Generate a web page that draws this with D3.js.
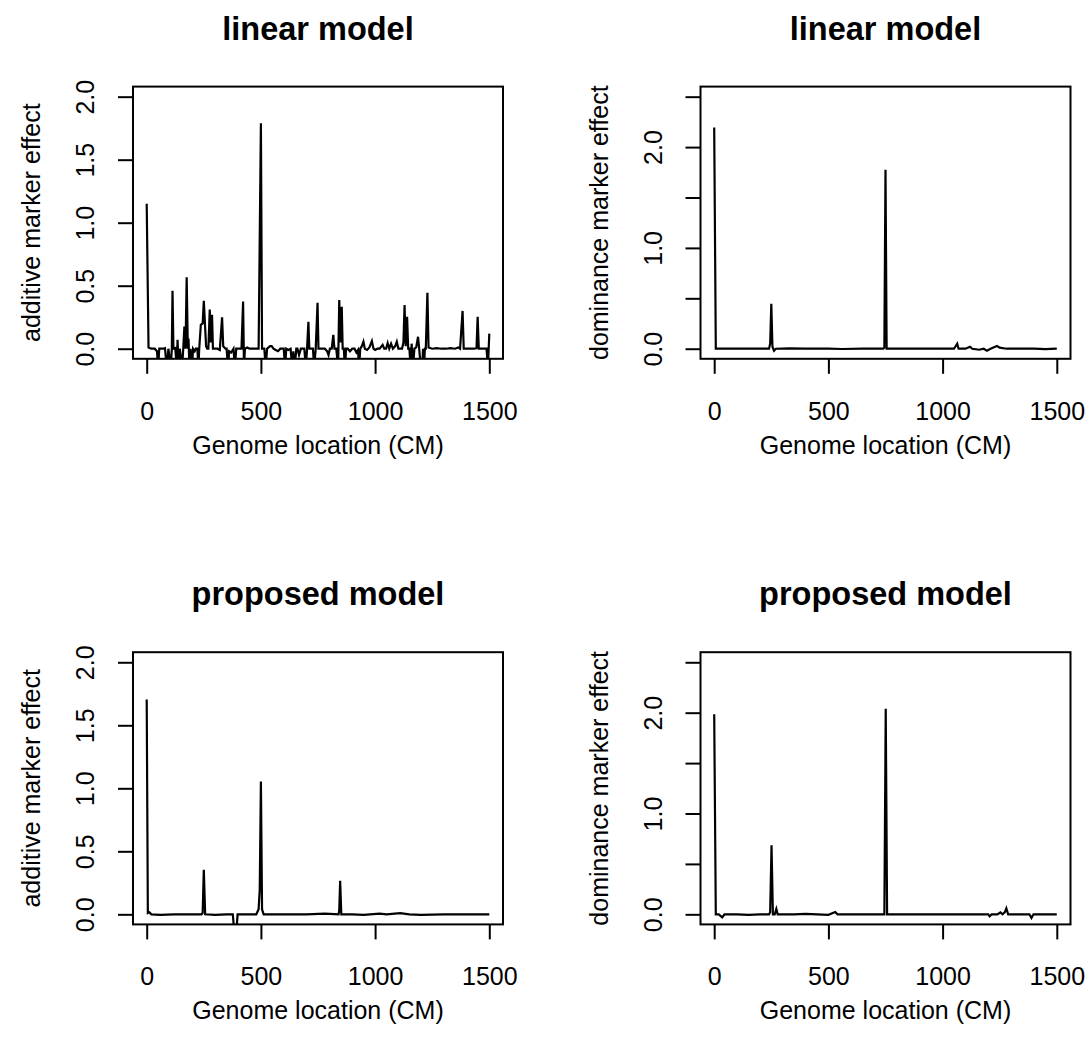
<!DOCTYPE html>
<html>
<head>
<meta charset="utf-8">
<script src="https://cdn.jsdelivr.net/npm/d3@7"></script>
<style>
body { margin: 0; background: #fff; }
text { font-family: "Liberation Sans", Arial, Helvetica, sans-serif; fill: #000; }
</style>
</head>
<body>
<script>
// marker effects along the genome, [location (cM), effect]
var linearAdditive = [
  [0, 1.15], [8, 0.01], [20, 0.0], [35, 0.0], [45, -0.02], [50, -0.15], [55, 0.0], [70, 0.0],
  [80, 0.005], [88, -0.15], [95, 0.0], [105, -0.15], [110, 0.0], [113, 0.46], [117, 0.0],
  [125, 0.005], [132, -0.15], [135, 0.07], [140, -0.15], [145, 0.0], [155, -0.15], [160, 0.0],
  [165, 0.175], [170, 0.0], [175, 0.567], [180, 0.0], [183, 0.08], [187, -0.15], [192, 0.0],
  [198, -0.15], [203, 0.0], [210, -0.02], [215, 0.0], [222, 0.0], [226, -0.15], [230, 0.0],
  [237, 0.19], [245, 0.2], [250, 0.38], [255, 0.2], [260, 0.02], [265, 0.0], [270, 0.0],
  [276, 0.31], [280, 0.05], [286, 0.27], [290, 0.0], [300, 0.0], [310, 0.0], [320, -0.01],
  [330, 0.25], [335, 0.02], [345, 0.0], [350, 0.0], [356, -0.15], [361, -0.02], [370, -0.03],
  [380, 0.0], [386, -0.15], [392, 0.0], [405, 0.0], [415, 0.0], [422, 0.375], [426, -0.15],
  [430, 0.0], [440, 0.01], [450, 0.0], [470, 0.0], [490, 0.0], [500, 1.79], [505, 0.0],
  [515, 0.0], [521, -0.15], [527, 0.0], [540, 0.02], [547, 0.02], [555, 0.0], [565, -0.01],
  [575, -0.02], [585, 0.0], [600, 0.0], [606, -0.15], [611, 0.0], [620, -0.01], [630, 0.0],
  [637, -0.15], [642, -0.02], [648, -0.15], [655, 0.0], [660, 0.0], [667, -0.05], [675, 0.0],
  [690, 0.0], [697, -0.15], [702, 0.0], [708, 0.214], [712, 0.0], [720, 0.0], [728, 0.0],
  [733, -0.15], [740, 0.0], [748, 0.365], [752, 0.0], [765, 0.0], [780, 0.0], [790, -0.02],
  [796, -0.05], [802, 0.0], [810, 0.0], [817, 0.11], [822, 0.0], [830, 0.0], [838, -0.15],
  [843, 0.386], [848, 0.05], [854, 0.333], [858, 0.0], [863, 0.0], [868, -0.15], [873, 0.0],
  [880, 0.0], [890, -0.02], [900, 0.0], [910, 0.0], [918, -0.03], [925, -0.01], [930, -0.15],
  [935, 0.0], [942, 0.02], [949, 0.056], [955, 0.0], [965, -0.01], [975, 0.01], [986, 0.06],
  [993, 0.0], [1000, -0.01], [1010, 0.0], [1020, 0.0], [1033, 0.03], [1040, 0.0], [1048, 0.0],
  [1055, 0.045], [1062, 0.0], [1070, 0.04], [1078, 0.0], [1088, 0.02], [1095, 0.056],
  [1102, 0.0], [1110, 0.0], [1118, 0.0], [1124, 0.05], [1129, 0.347], [1134, 0.02],
  [1140, 0.254], [1145, 0.0], [1150, 0.0], [1156, -0.15], [1160, 0.04], [1166, -0.15],
  [1172, 0.0], [1180, 0.01], [1188, 0.095], [1193, 0.0], [1200, -0.15], [1206, -0.15],
  [1210, 0.0], [1214, -0.15], [1218, 0.0], [1222, 0.0], [1229, 0.444], [1234, 0.01],
  [1250, 0.0], [1270, 0.005], [1290, 0.0], [1310, 0.0], [1330, 0.005], [1350, 0.0],
  [1364, 0.01], [1372, 0.0], [1383, 0.30], [1388, 0.0], [1400, 0.0], [1420, 0.0], [1435, 0.0],
  [1444, 0.005], [1449, 0.254], [1454, 0.0], [1470, 0.0], [1488, 0.0], [1494, -0.15], [1500, 0.12]
];

var linearDominance = [
  [0, 2.195], [7, 0.0], [50, 0.0], [100, 0.0], [150, 0.0], [200, 0.0], [240, 0.0], [245, 0.05],
  [250, 0.445], [255, 0.02], [262, -0.02], [270, 0.0], [330, 0.003], [400, 0.0], [500, 0.0],
  [560, -0.003], [650, 0.0], [740, 0.0], [745, 0.01], [750, 1.776], [755, 0.0], [850, 0.0],
  [950, 0.0], [1050, 0.0], [1064, 0.05], [1070, 0.0], [1100, 0.0], [1120, 0.02], [1130, 0.0],
  [1160, -0.01], [1180, 0.0], [1194, -0.02], [1210, 0.0], [1238, 0.026], [1250, 0.01],
  [1280, 0.0], [1350, 0.0], [1400, 0.0], [1450, -0.005], [1500, 0.0]
];

var proposedAdditive = [
  [0, 1.704], [5, 0.01], [12, 0.016], [20, 0.0], [60, -0.005], [120, 0.0], [180, 0.0],
  [240, 0.0], [245, 0.01], [250, 0.354], [256, 0.0], [300, -0.005], [350, 0.0], [377, 0.0],
  [384, -0.15], [392, -0.15], [398, 0.0], [440, 0.0], [480, 0.0], [490, 0.04], [495, 0.2],
  [500, 1.053], [505, 0.04], [512, 0.0], [560, 0.0], [620, 0.0], [700, 0.0], [780, 0.005],
  [840, 0.0], [843, 0.03], [847, 0.267], [852, 0.0], [900, 0.0], [950, -0.005], [1020, 0.005],
  [1050, 0.0], [1110, 0.01], [1150, 0.0], [1200, -0.005], [1300, 0.0], [1400, 0.0], [1500, 0.0]
];

var proposedDominance = [
  [0, 1.985], [7, 0.0], [20, 0.0], [35, -0.03], [45, 0.0], [100, 0.0], [150, -0.005],
  [200, 0.0], [240, 0.0], [245, 0.02], [251, 0.684], [257, 0.0], [265, 0.0], [272, 0.053],
  [278, 0.0], [350, 0.0], [400, 0.005], [500, -0.005], [530, 0.023], [540, 0.0], [640, 0.0],
  [745, 0.0], [751, 2.04], [757, 0.0], [850, 0.0], [950, 0.0], [1050, 0.0], [1150, 0.0],
  [1200, 0.0], [1206, -0.02], [1215, 0.0], [1240, 0.0], [1253, 0.02], [1262, 0.0],
  [1272, 0.02], [1279, 0.06], [1287, 0.0], [1300, 0.0], [1380, 0.0], [1389, -0.036],
  [1398, 0.0], [1450, 0.0], [1500, 0.0]
];

var xTicks = [0, 500, 1000, 1500];
var additiveTicks = [0, 0.5, 1, 1.5, 2];
var dominanceTicks = [0, 0.5, 1, 1.5, 2, 2.5];
// R drops the labels that would overlap on the dominance axis
var dominanceLabelled = [0, 1, 2];

var titles = ["linear model", "linear model", "proposed model", "proposed model"];
var yTitles = ["additive marker effect", "dominance marker effect"];
var xTitle = "Genome location (CM)";

var width = 1092, height = 1057;

var svg = d3.select("body").append("svg")
  .attr("width", width)
  .attr("height", height);

// the four panels, box edges in pixels
var panels = [
  {data: linearAdditive, title: titles[0], ylab: yTitles[0], ymax: 2, ticks: additiveTicks, labelled: additiveTicks, left: 133, top: 86.6},
  {data: linearDominance, title: titles[1], ylab: yTitles[1], ymax: 2.5, ticks: dominanceTicks, labelled: dominanceLabelled, left: 700.5, top: 86.6},
  {data: proposedAdditive, title: titles[2], ylab: yTitles[0], ymax: 2, ticks: additiveTicks, labelled: additiveTicks, left: 133, top: 652.2},
  {data: proposedDominance, title: titles[3], ylab: yTitles[1], ymax: 2.5, ticks: dominanceTicks, labelled: dominanceLabelled, left: 700.5, top: 652.2}
];

var boxW = 370, boxH = 272.2, tick = 15;

panels.forEach(function(p, i) {
  var g = svg.append("g").attr("transform", "translate(" + p.left + "," + p.top + ")");

  // R style 4% padding round the data range
  var xScale = d3.scaleLinear().domain([-60, 1560]).range([0, boxW]);
  var pad = p.ymax * 0.04;
  var yScale = d3.scaleLinear().domain([-pad, p.ymax + pad]).range([boxH, 0]);

  g.append("clipPath").attr("id", "clip" + i)
    .append("rect").attr("width", boxW).attr("height", boxH);

  var line = d3.line()
    .x(function(d) { return xScale(d[0]); })
    .y(function(d) { return yScale(d[1]); });

  g.append("path")
    .datum(p.data)
    .attr("clip-path", "url(#clip" + i + ")")
    .attr("fill", "none")
    .attr("stroke", "#000")
    .attr("stroke-width", 2.2)
    .attr("stroke-linejoin", "miter")
    .attr("d", line);

  g.append("rect")
    .attr("width", boxW)
    .attr("height", boxH)
    .attr("fill", "none")
    .attr("stroke", "#000")
    .attr("stroke-width", 2);

  // x axis
  var xAxis = d3.axisBottom(xScale)
    .tickValues(xTicks)
    .tickSize(tick)
    .tickPadding(28)
    .tickFormat(d3.format("d"));
  var gx = g.append("g").attr("transform", "translate(0," + boxH + ")").call(xAxis);
  gx.select(".domain").remove();
  gx.selectAll("line").attr("stroke-width", 2);
  gx.selectAll("text").attr("font-size", 25).attr("font-family", null);

  // y axis, labels turned like R's las = 0
  var yAxis = d3.axisLeft(yScale)
    .tickValues(p.ticks)
    .tickSize(tick)
    .tickFormat(function(d) { return p.labelled.indexOf(d) >= 0 ? d3.format(".1f")(d) : ""; });
  var gy = g.append("g").call(yAxis);
  gy.select(".domain").remove();
  gy.selectAll("line").attr("stroke-width", 2);
  gy.selectAll("text")
    .attr("font-size", 25)
    .attr("font-family", null)
    .attr("transform", "rotate(-90)")
    .attr("text-anchor", "middle")
    .attr("x", 0)
    .attr("y", -39)
    .attr("dy", null);

  g.append("text")
    .attr("x", boxW / 2)
    .attr("y", -47)
    .attr("text-anchor", "middle")
    .attr("font-size", 32.5)
    .attr("font-weight", "bold")
    .text(p.title);

  g.append("text")
    .attr("x", boxW / 2)
    .attr("y", boxH + 95)
    .attr("text-anchor", "middle")
    .attr("font-size", 25)
    .text(xTitle);

  g.append("text")
    .attr("transform", "translate(-93," + (boxH / 2) + ") rotate(-90)")
    .attr("text-anchor", "middle")
    .attr("font-size", 25)
    .text(p.ylab);
});
</script>
</body>
</html>
